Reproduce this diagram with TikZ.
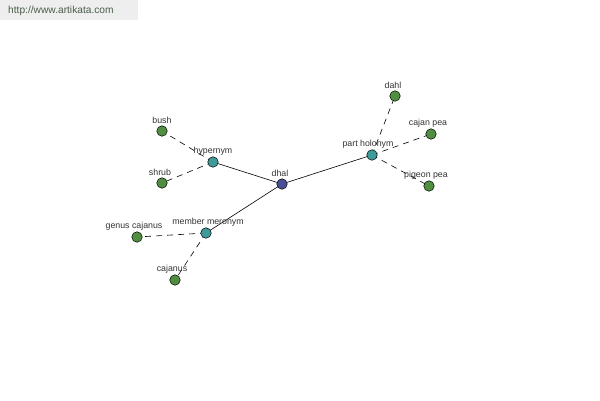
\documentclass[tikz,border=0pt]{standalone}
\usepackage{fontspec}
\setmainfont{Liberation Sans}
\pgfdeclarelayer{bg}
\pgfdeclarelayer{paper}
\pgfsetlayers{paper,bg,main}
\begin{document}
\begin{tikzpicture}[x=1pt,y=-1pt,
  dot/.style={circle,draw=black,line width=0.5pt,inner sep=0pt,minimum size=10.5pt},
  hub/.style={dot,fill=hubc},
  mid/.style={dot,fill=midc},
  leaf/.style={dot,fill=leafc},
  lbl/.style={font=\fontsize{8.8}{10}\selectfont,text=txtc,inner sep=0pt},
  solidedge/.style={draw=black,line width=0.6pt},
  dashedge/.style={draw=black,line width=0.6pt,dash pattern=on 6pt off 5pt}]
\definecolor{hubc}{HTML}{4A4F95}
\definecolor{midc}{HTML}{3F9A9A}
\definecolor{leafc}{HTML}{4F8F3F}
\definecolor{txtc}{HTML}{333333}
\definecolor{hdrbg}{HTML}{EEEEEE}
\definecolor{hdrtxt}{HTML}{4A5E4A}
\begin{pgfonlayer}{paper}
\fill[white] (0,0) rectangle (600,400);
\end{pgfonlayer}
\useasboundingbox (0,0) rectangle (600,400);
\fill[hdrbg] (0,0) rectangle (138,20);
\node[font=\fontsize{10.2}{11}\selectfont,text=hdrtxt,anchor=west,inner sep=0pt] (hdr) at (8,11) {http://www.artikata.com};
% nodes
\node[hub] (dhal) at (282,184) {};
\node[mid] (hyp) at (213,162) {};
\node[mid] (mer) at (206,233) {};
\node[mid] (hol) at (372,155) {};
\node[leaf] (bush) at (162,131) {};
\node[leaf] (shrub) at (162,183) {};
\node[leaf] (genus) at (137,237) {};
\node[leaf] (cajanus) at (175,280) {};
\node[leaf] (dahl) at (395,96) {};
\node[leaf] (cajan) at (431,134) {};
\node[leaf] (pigeon) at (429,186) {};
% edges
\begin{pgfonlayer}{bg}
\path[solidedge] (dhal.center) -- (hyp.center);
\path[solidedge] (dhal.center) -- (mer.center);
\path[solidedge] (dhal.center) -- (hol.center);
\path[dashedge] (hyp.center) -- (bush.center);
\path[dashedge] (hyp.center) -- (shrub.center);
\path[dashedge] (mer.center) -- (genus.center);
\path[dashedge] (mer.center) -- (cajanus.center);
\path[dashedge] (hol.center) -- (dahl.center);
\path[dashedge] (hol.center) -- (cajan.center);
\path[dashedge] (hol.center) -- (pigeon.center);
\end{pgfonlayer}
% labels
\node[lbl] (ldhal) at (280,173) {dhal};
\node[lbl] (lhyp) at (213,151) {hypernym};
\node[lbl] (lmer) at (208,222) {member meronym};
\node[lbl] (lhol) at (368,144) {part holonym};
\node[lbl] (lbush) at (162,120) {bush};
\node[lbl] (lshrub) at (160,172) {shrub};
\node[lbl] (lgenus) at (134,226) {genus cajanus};
\node[lbl] (lcaj) at (172,269) {cajanus};
\node[lbl] (ldahl) at (393,85) {dahl};
\node[lbl] (lcajan) at (428,123) {cajan pea};
\node[lbl] (lpig) at (426,175) {pigeon pea};
\end{tikzpicture}
\end{document}
